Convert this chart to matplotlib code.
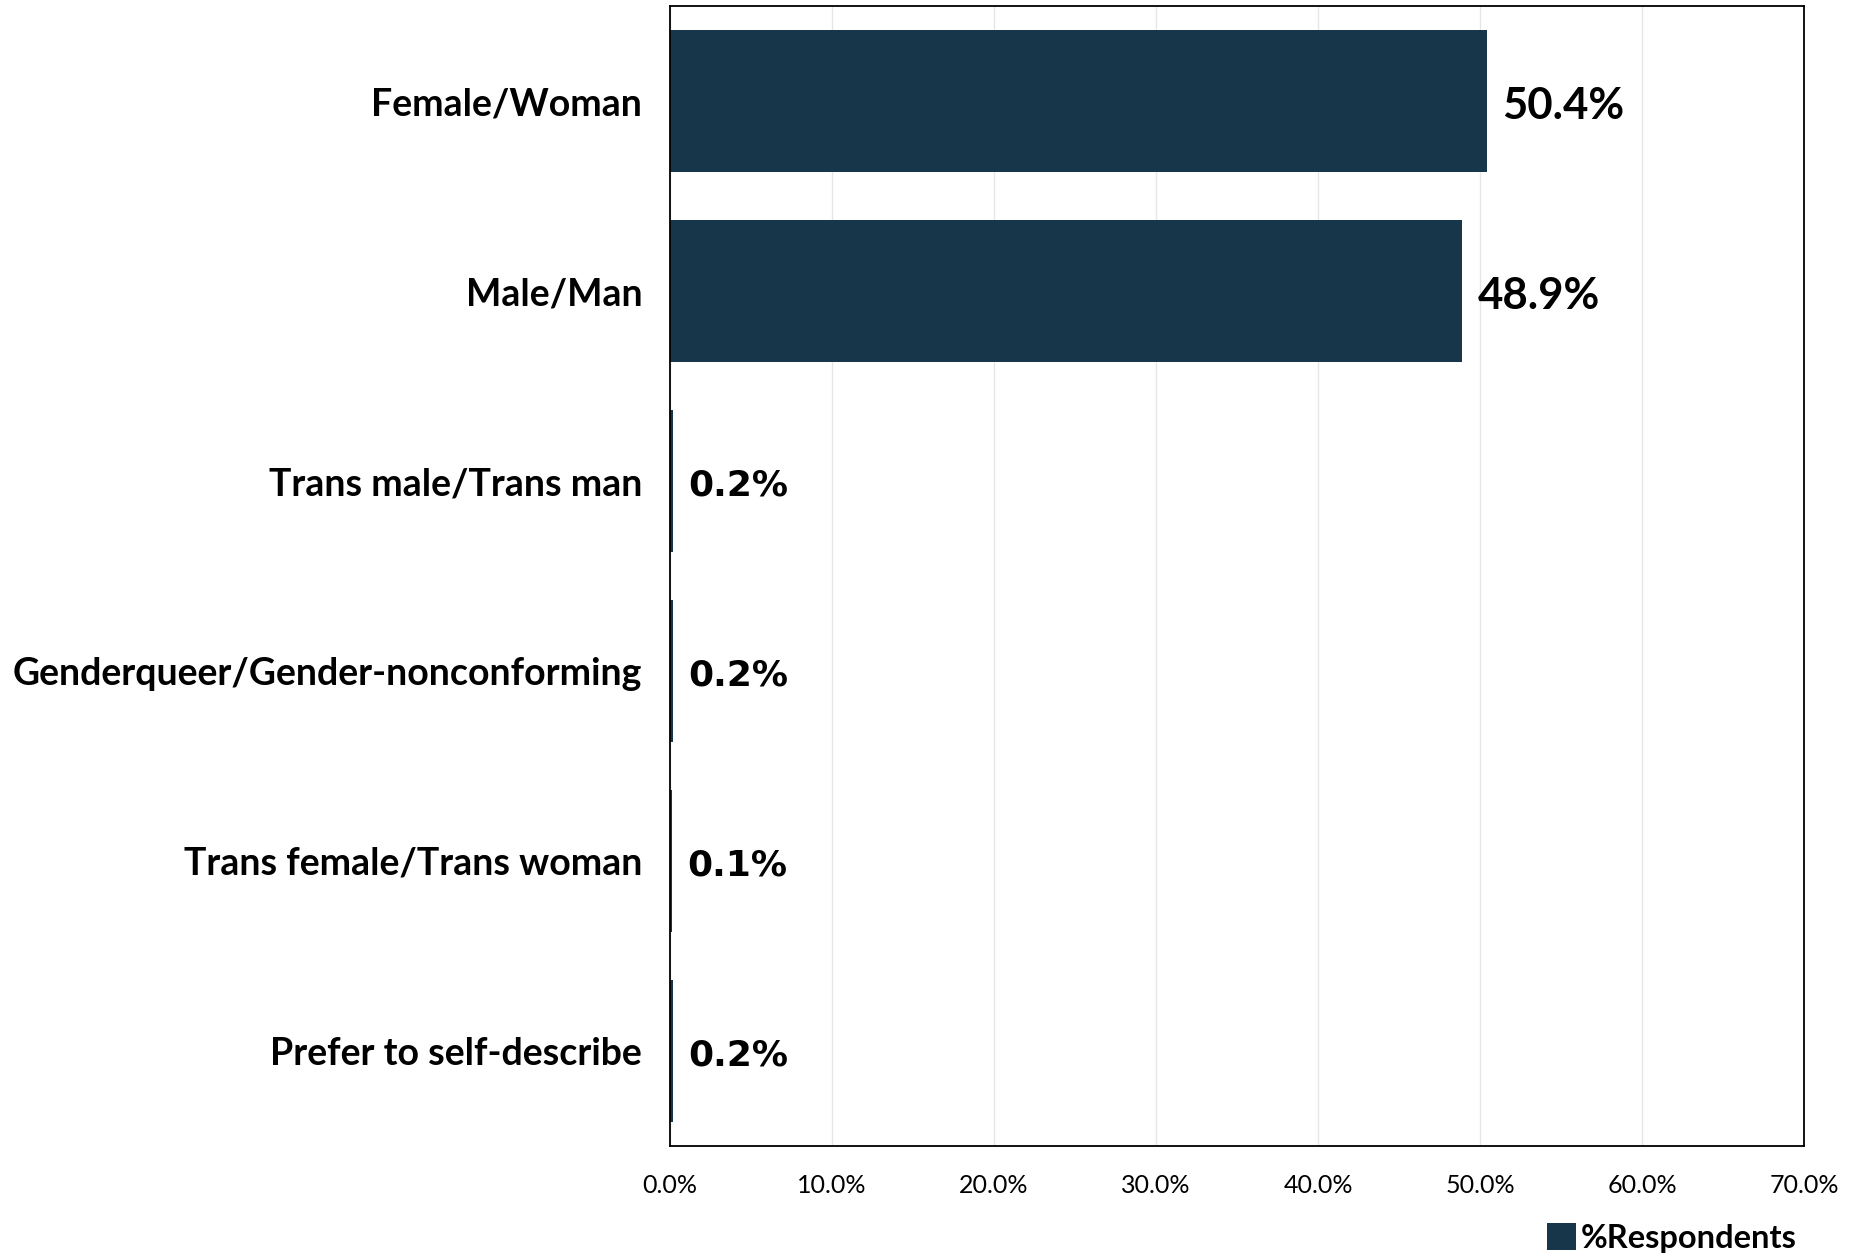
import matplotlib.pyplot as plt
from matplotlib.ticker import PercentFormatter

# Gender identity of respondents, top to bottom
categories = [
    "Female/Woman",
    "Male/Man",
    "Trans male/Trans man",
    "Genderqueer/Gender-nonconforming",
    "Trans female/Trans woman",
    "Prefer to self-describe",
]
respondents = [50.4, 48.9, 0.2, 0.2, 0.1, 0.2]
value_labels = ["50.4%", "48.9%", "0.2%", "0.2%", "0.1%", "0.2%"]
x_ticks = [0, 10, 20, 30, 40, 50, 60, 70]

bar_color = "#17364a"
main_font = "Lato"

fig = plt.figure(figsize=(18.62, 12.56), dpi=100)
ax = fig.add_axes([0.3598, 0.0876, 0.6091, 0.9076])

pos = list(range(len(categories)))
ax.barh(pos, respondents, height=0.75, color=bar_color, label="%Respondents")
ax.set_ylim(len(categories) - 0.5, -0.5)
ax.set_xlim(0, 70)

ax.set_yticks(pos)
ax.set_yticklabels(categories, fontsize=27, fontweight="bold", family=main_font)
ax.set_xticks(x_ticks)
ax.xaxis.set_major_formatter(PercentFormatter(decimals=1))
for lab in ax.get_xticklabels():
    lab.set_fontsize(18)
    lab.set_family(main_font)
ax.tick_params(axis="both", length=0)
ax.tick_params(axis="x", pad=20)
ax.tick_params(axis="y", pad=20)

ax.grid(axis="x", color="#e6e6e6", linewidth=1)
ax.set_axisbelow(True)
for sp in ax.spines.values():
    sp.set_color("black")
    sp.set_linewidth(1.3)

# value labels: large ones in the body font, small ones in a wider face
for p, v, txt in zip(pos, respondents, value_labels):
    if v > 10:
        ax.annotate(txt, (v, p), xytext=(11, -3.5), textcoords="offset points",
                    va="center", ha="left", fontsize=31.5, fontweight="bold",
                    family=main_font)
    else:
        ax.annotate(txt, (v, p), xytext=(11, -3), textcoords="offset points",
                    va="center", ha="left", fontsize=26, fontweight="bold",
                    family="DejaVu Sans")

leg = ax.legend(loc="center right", bbox_to_anchor=(1.005, -0.081), frameon=False,
                borderaxespad=0, handlelength=0.9, handleheight=0.9,
                handletextpad=0.15,
                prop={"family": main_font, "weight": "bold", "size": 23.5})

fig.savefig("out.png", dpi=100)
